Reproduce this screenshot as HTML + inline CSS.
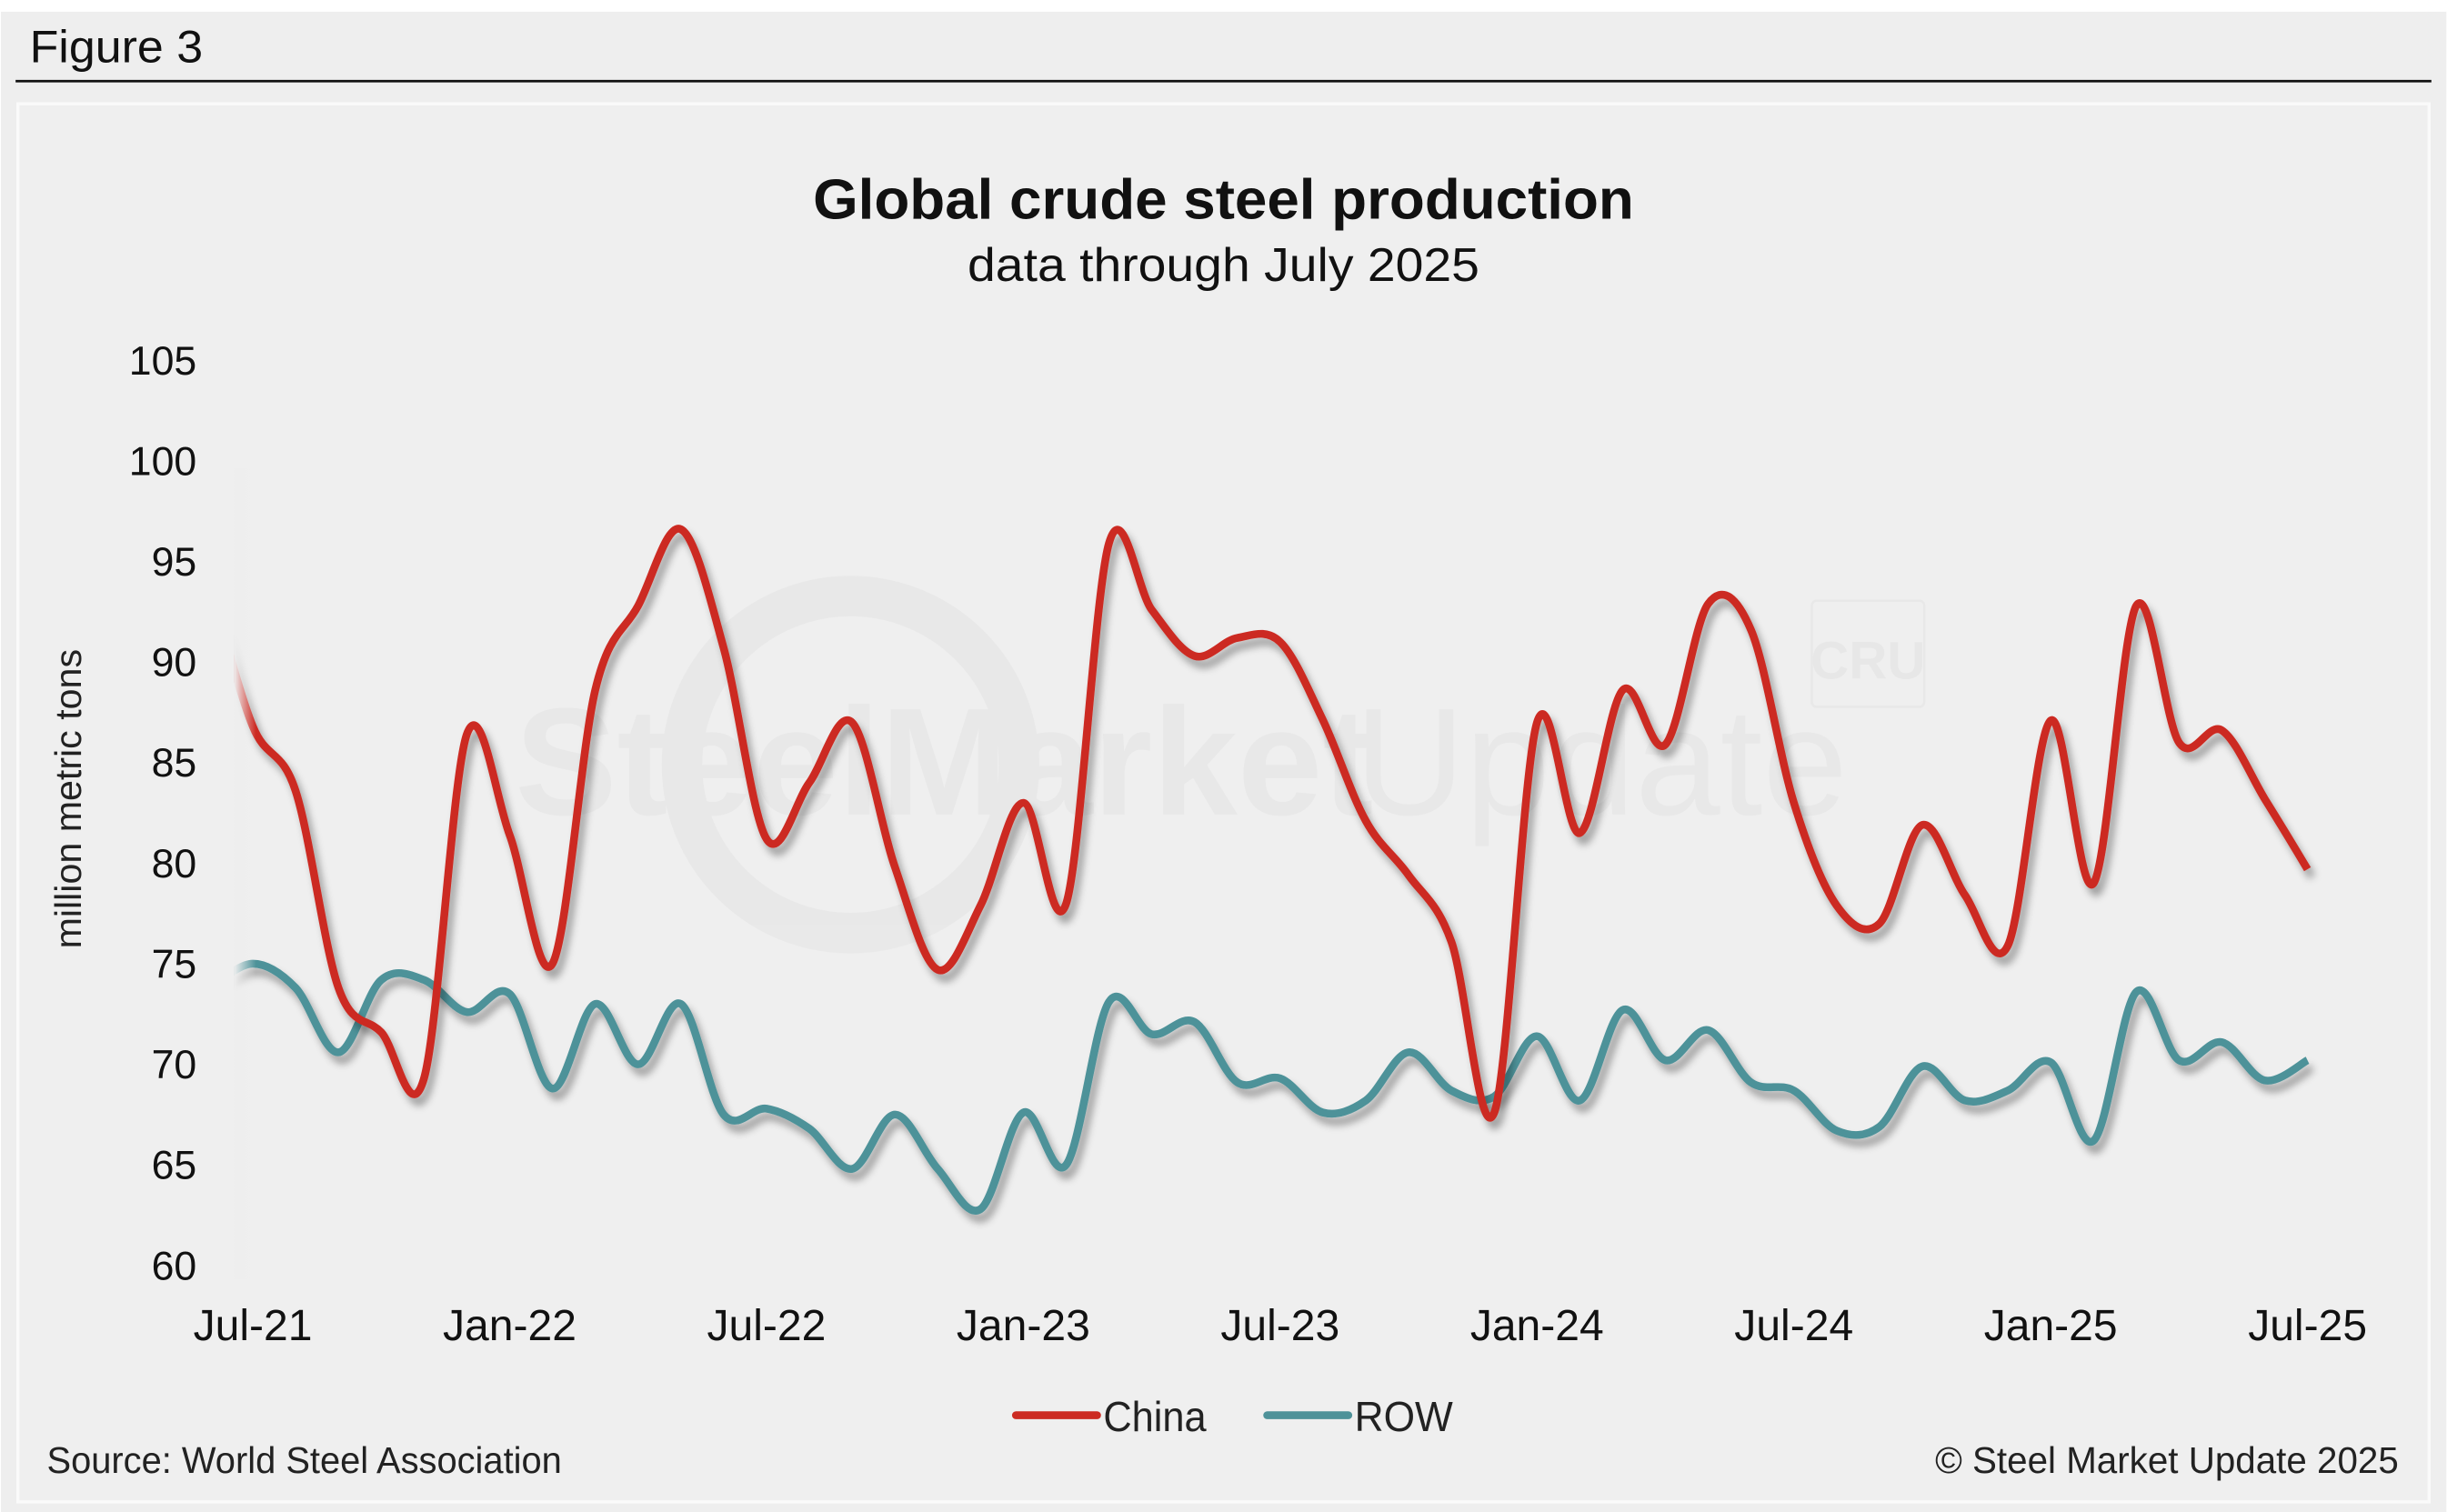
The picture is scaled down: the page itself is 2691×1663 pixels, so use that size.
<!DOCTYPE html>
<html><head><meta charset="utf-8"><style>
html,body{margin:0;padding:0;background:#fff;}
svg{display:block;}
text{font-family:"Liberation Sans",sans-serif;}
</style></head><body>
<svg id="chart" width="2691" height="1663" viewBox="0 0 1568 969" xmlns="http://www.w3.org/2000/svg">
<defs>
<filter id="sh" x="-5%" y="-5%" width="110%" height="120%"><feGaussianBlur in="SourceAlpha" stdDeviation="2.5"/><feOffset dx="3" dy="5"/><feComponentTransfer><feFuncA type="linear" slope="0.35"/></feComponentTransfer><feMerge><feMergeNode/><feMergeNode in="SourceGraphic"/></feMerge></filter>
<clipPath id="plotclip"><rect x="150" y="200" width="1360" height="640"/></clipPath>
<linearGradient id="fadeL" x1="0" x2="1"><stop offset="0" stop-color="#eeeeee" stop-opacity="1"/><stop offset="1" stop-color="#eeeeee" stop-opacity="0"/></linearGradient>
</defs>
<rect x="0.6" y="7.5" width="1567" height="962" fill="#eeeeee"/>
<text x="19" y="40" font-size="29" fill="#111" textLength="111" lengthAdjust="spacingAndGlyphs">Figure 3</text>
<line x1="10" y1="52" x2="1558" y2="52" stroke="#111" stroke-width="1.6"/>
<rect x="11.5" y="66.5" width="1545" height="896" fill="#efefef" stroke="#fafafa" stroke-width="2"/>
<g opacity="0.5">
<circle cx="545" cy="490" r="108" fill="none" stroke="#e3e3e3" stroke-width="26"/>
<text x="330" y="522" font-size="98" font-weight="bold" fill="#e2e2e2">SteelMarket</text>
<text x="868" y="522" font-size="98" fill="#e2e2e2">Update</text>
<rect x="1161" y="385" width="72" height="68" rx="3" fill="none" stroke="#e2e2e2" stroke-width="1.5"/>
<text x="1197" y="435" font-size="34" font-weight="bold" fill="#e0e0e0" text-anchor="middle">CRU</text>
</g>
<text x="784" y="140" font-size="36" font-weight="bold" text-anchor="middle" fill="#111" textLength="526" lengthAdjust="spacingAndGlyphs">Global crude steel production</text>
<text x="784" y="180" font-size="30" text-anchor="middle" fill="#111" textLength="328" lengthAdjust="spacingAndGlyphs">data through July 2025</text>
<text transform="translate(52,512) rotate(-90)" font-size="24" text-anchor="middle" fill="#222">million metric tons</text>
<g id="yticks"></g>
<g id="xticks"></g>
<g id="series" clip-path="url(#plotclip)"></g>
<rect x="150" y="300" width="14" height="520" fill="url(#fadeL)"/>
<g>
<g><line x1="651" y1="907" x2="703" y2="907" stroke="#cc2b22" stroke-width="5" stroke-linecap="round"/><text x="707" y="917" font-size="27" fill="#222" textLength="66" lengthAdjust="spacingAndGlyphs">China</text></g>
<g><line x1="812" y1="907" x2="864" y2="907" stroke="#4e9299" stroke-width="5" stroke-linecap="round"/><text x="868" y="917" font-size="27" fill="#222" textLength="63" lengthAdjust="spacingAndGlyphs">ROW</text></g>
</g>
<text x="30" y="944" font-size="24" fill="#222" textLength="330" lengthAdjust="spacingAndGlyphs">Source: World Steel Association</text>
<text x="1537" y="944" font-size="24" fill="#222" text-anchor="end" textLength="297" lengthAdjust="spacingAndGlyphs">© Steel Market Update 2025</text>
</svg>
<script>
const months = ["Jun-21","Jul-21","Aug-21","Sep-21","Oct-21","Nov-21","Dec-21","Jan-22","Feb-22","Mar-22","Apr-22","May-22","Jun-22","Jul-22","Aug-22","Sep-22","Oct-22","Nov-22","Dec-22","Jan-23","Feb-23","Mar-23","Apr-23","May-23","Jun-23","Jul-23","Aug-23","Sep-23","Oct-23","Nov-23","Dec-23","Jan-24","Feb-24","Mar-24","Apr-24","May-24","Jun-24","Jul-24","Aug-24","Sep-24","Oct-24","Nov-24","Dec-24","Jan-25","Feb-25","Mar-25","Apr-25","May-25","Jun-25","Jul-25"];
const chinaValues = [93.9,86.8,83.6,73.8,71.6,69.3,86.4,81.4,75.0,88.6,92.8,96.6,90.7,81.2,84.0,87.0,79.8,74.7,77.9,83.0,78.0,95.9,92.6,90.3,91.2,91.0,87.1,82.1,79.4,76.1,67.6,87.0,81.5,88.6,85.9,92.9,91.6,83.0,77.9,77.0,81.9,78.4,75.9,87.1,79.0,92.8,86.0,86.6,83.2,79.7];
const rowValues = [73.8,75.0,73.8,70.6,74.2,74.2,72.6,73.5,68.8,73.0,70.0,73.0,67.5,67.8,66.8,64.8,67.5,64.8,62.8,67.6,65.0,73.1,71.5,72.1,69.1,69.3,67.6,68.2,70.6,68.7,68.4,71.4,68.2,72.7,70.2,71.7,69.1,68.7,66.7,66.9,69.9,68.2,68.7,70.1,66.2,73.6,70.2,71.1,69.2,70.2];
const yTicks = [60,65,70,75,80,85,90,95,100,105];
const xTickLabels = ["Jul-21","Jan-22","Jul-22","Jan-23","Jul-23","Jan-24","Jul-24","Jan-25","Jul-25"];

const NS = "http://www.w3.org/2000/svg";
function xScale(i){ return 162 + (i - 1) * 27.43; }
function yScale(v){ return 811 - (v - 60) * 12.89; }
function smoothPath(vals){
  const p = vals.map((v,i)=>[xScale(i), yScale(v)]);
  let d = "M" + p[0][0].toFixed(1) + "," + p[0][1].toFixed(1);
  for(let i=0;i<p.length-1;i++){
    const p0=p[Math.max(0,i-1)], p1=p[i], p2=p[i+1], p3=p[Math.min(p.length-1,i+2)];
    const t=6;
    const c1=[p1[0]+(p2[0]-p0[0])/t, p1[1]+(p2[1]-p0[1])/t];
    const c2=[p2[0]-(p3[0]-p1[0])/t, p2[1]-(p3[1]-p1[1])/t];
    d += " C"+c1[0].toFixed(1)+","+c1[1].toFixed(1)+" "+c2[0].toFixed(1)+","+c2[1].toFixed(1)+" "+p2[0].toFixed(1)+","+p2[1].toFixed(1);
  }
  return d;
}
const yg = document.getElementById("yticks");
yTicks.forEach(v=>{
  const t = document.createElementNS(NS,"text");
  
  
  t.setAttribute("x", 126); t.setAttribute("y", yScale(v)+9);
  t.setAttribute("font-size","26"); t.setAttribute("text-anchor","end"); t.setAttribute("fill","#111");
  t.textContent = v; yg.appendChild(t);
});
const xg = document.getElementById("xticks");
xTickLabels.forEach(lbl=>{
  const i = months.indexOf(lbl);
  const t = document.createElementNS(NS,"text");
  
  
  t.setAttribute("x", xScale(i)); t.setAttribute("y", 859);
  t.setAttribute("font-size","28"); t.setAttribute("text-anchor","middle"); t.setAttribute("fill","#111");
  t.textContent = lbl; xg.appendChild(t);
});
const sg = document.getElementById("series");
[[rowValues,"#4e9299","row-line"],[chinaValues,"#cc2b22","china-line"]].forEach(s=>{
  const path = document.createElementNS(NS,"path");
  
  
  path.setAttribute("d", smoothPath(s[0]));
  path.setAttribute("fill","none"); path.setAttribute("stroke", s[1]);
  path.setAttribute("stroke-width","5"); path.setAttribute("stroke-linejoin","round");
  path.setAttribute("filter","url(#sh)");
  sg.appendChild(path);
});
</script>
</body></html>
